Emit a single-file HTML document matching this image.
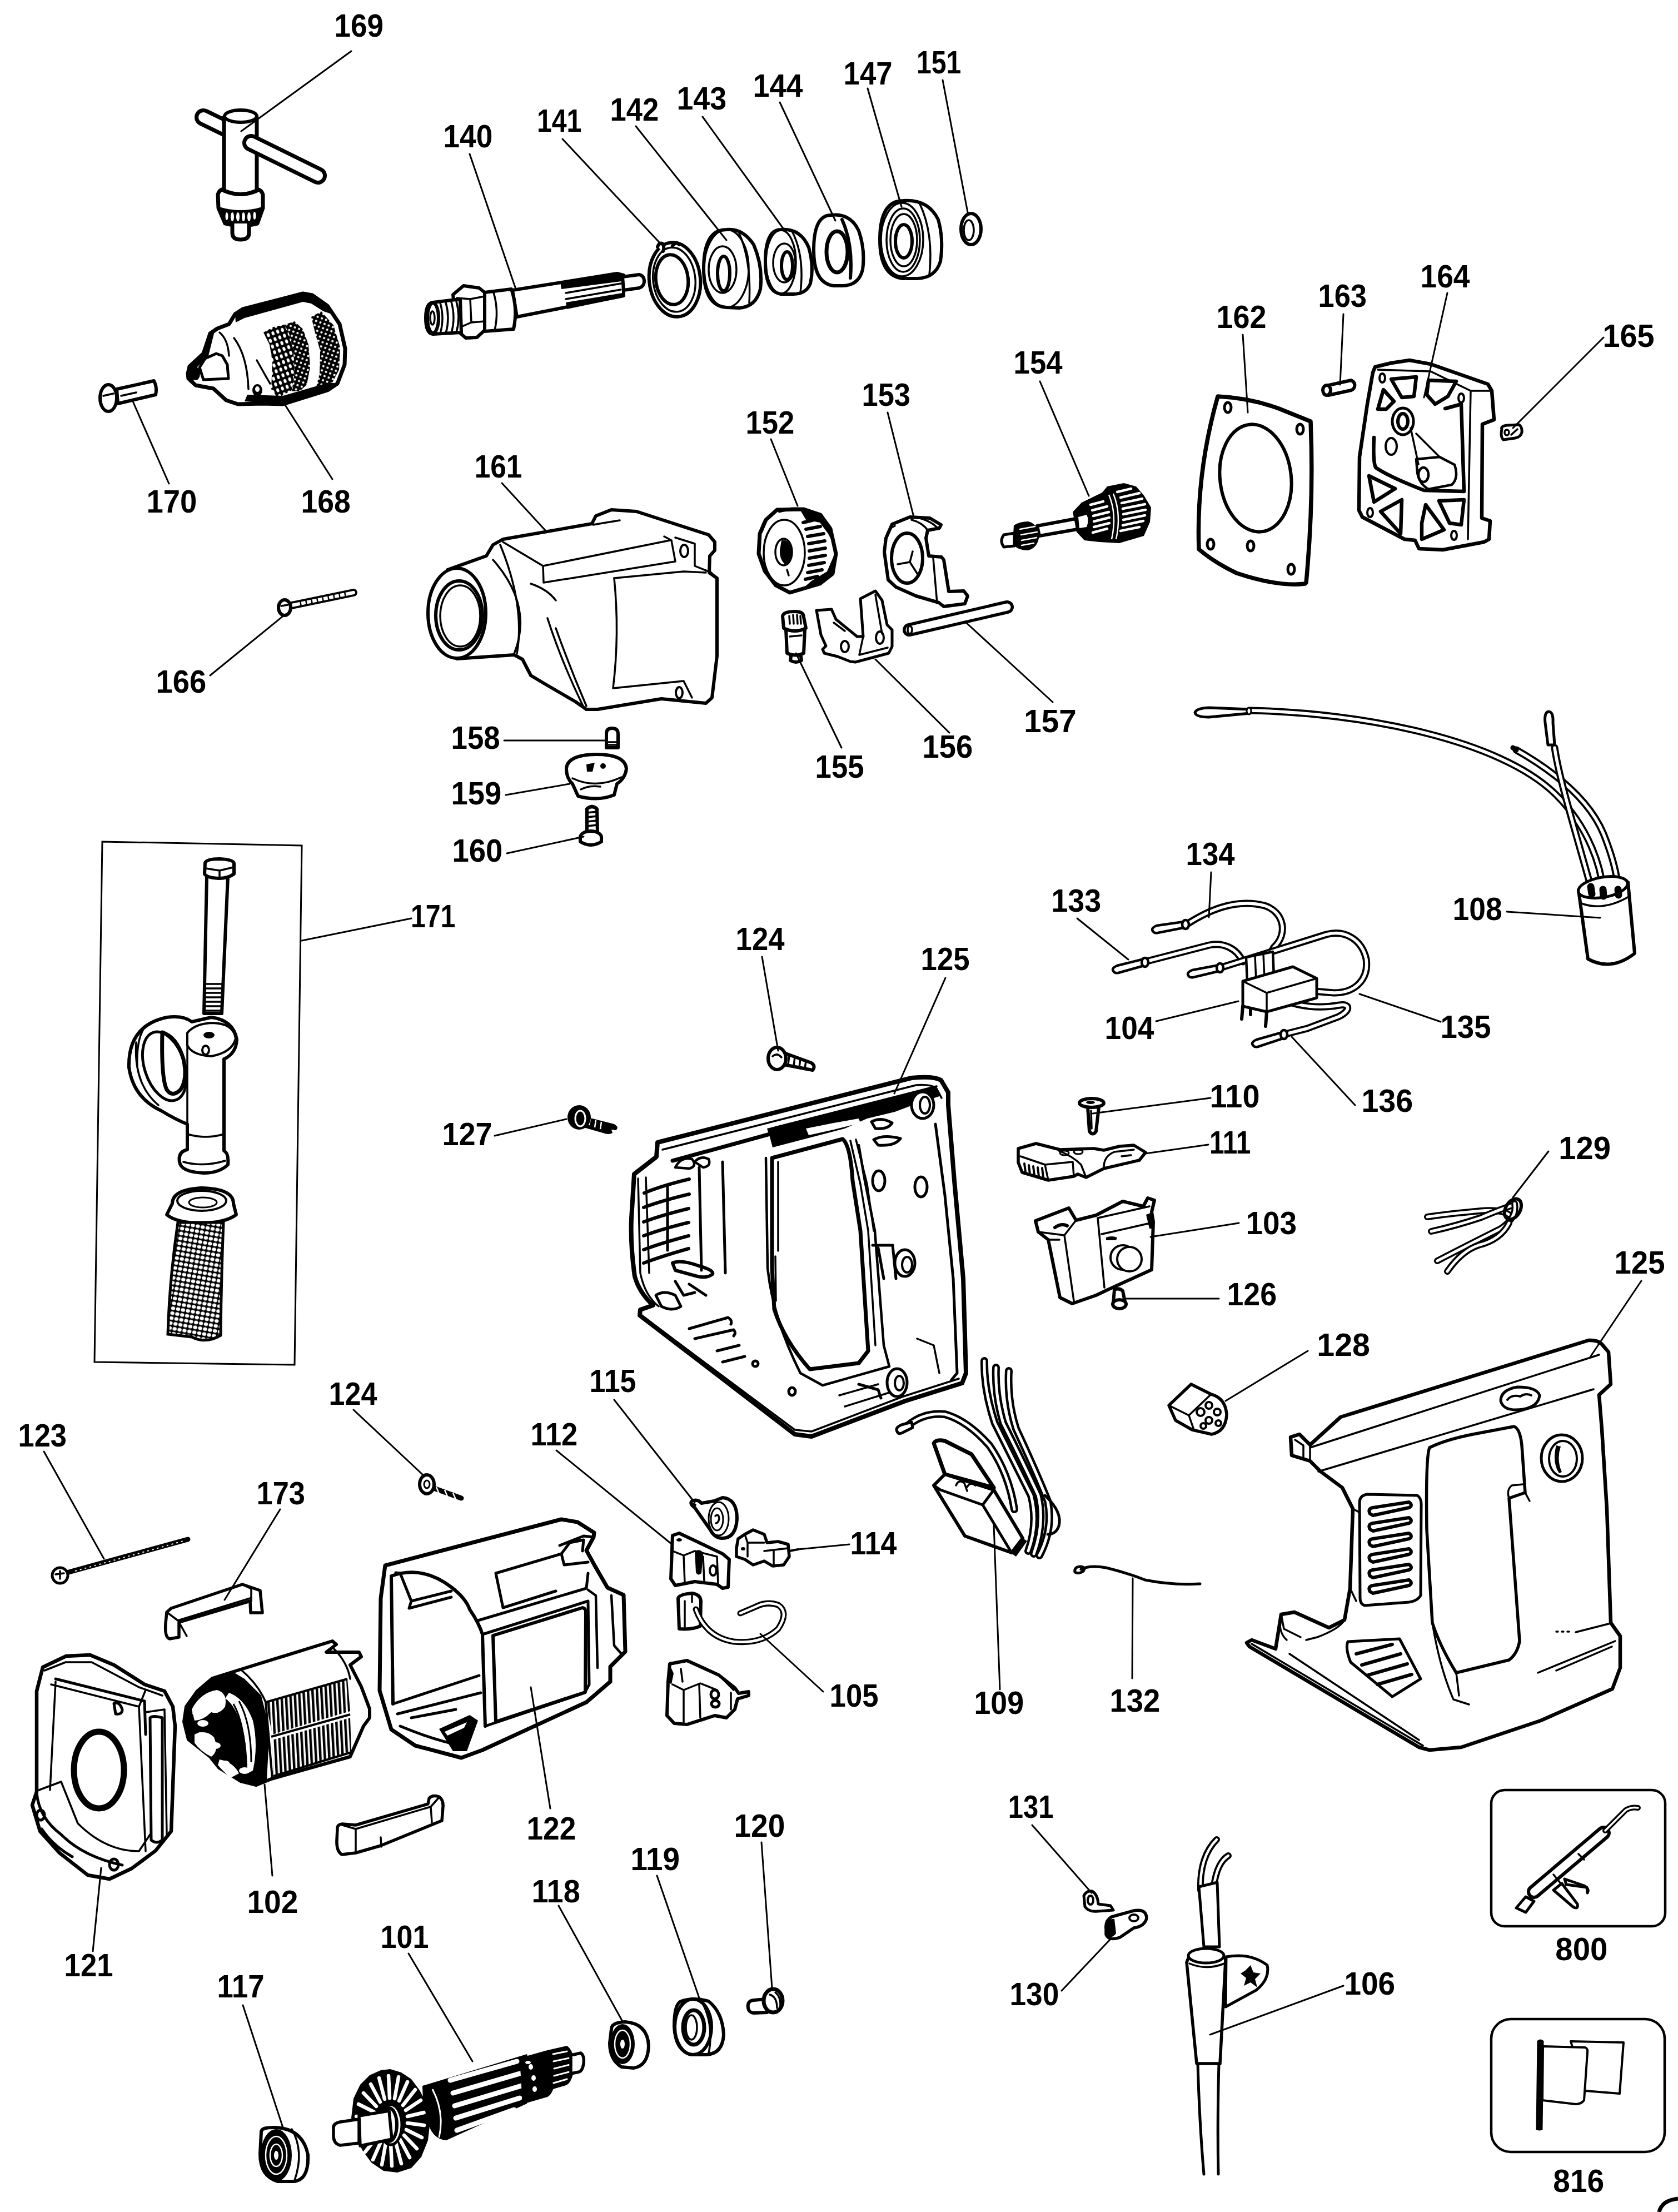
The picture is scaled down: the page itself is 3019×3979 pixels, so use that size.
<!DOCTYPE html>
<html><head><meta charset="utf-8"><style>
html,body{margin:0;padding:0;background:#fff;}
svg{display:block;}
text{font-family:"Liberation Sans",sans-serif;font-weight:bold;font-size:57px;fill:#000;}
.o{fill:#fff;stroke:#000;stroke-width:6;stroke-linejoin:round;stroke-linecap:round;}
.n{fill:none;stroke:#000;stroke-width:6;stroke-linejoin:round;stroke-linecap:round;}
.t{fill:none;stroke:#000;stroke-width:3.5;stroke-linejoin:round;stroke-linecap:round;}
.k{fill:#000;stroke:none;}
.L{fill:none;stroke:#000;stroke-width:3;stroke-linecap:round;}
</style></head><body>
<svg width="3019" height="3979" viewBox="0 0 3019 3979">
<rect width="3019" height="3979" fill="#fff"/>
<!-- a01_key.svg -->
<g>
<line x1="366" y1="211" x2="405" y2="230" stroke="#000" stroke-width="32" stroke-linecap="round"/>
<line x1="366" y1="211" x2="405" y2="230" stroke="#fff" stroke-width="18" stroke-linecap="round"/>
<path class="o" style="stroke-width:7" d="M403,211 L403,343 Q433,356 462,343 L462,211 Z"/>
<ellipse class="o" style="stroke-width:6" cx="433" cy="209" rx="29" ry="11"/>
<path class="o" style="stroke-width:7" d="M392,350 Q394,341 403,340 L403,343 Q433,356 462,343 L462,340 Q471,342 473,350 L473,374 L463,402 Q433,410 405,402 L393,374 Z"/>
<path class="k" d="M394,372 Q433,384 472,372 L462,402 Q433,410 405,402 Z"/>
<g fill="#fff"><ellipse cx="408" cy="389" rx="2.5" ry="7"/><ellipse cx="418" cy="390" rx="3" ry="8"/><ellipse cx="428" cy="390" rx="3" ry="8"/><ellipse cx="438" cy="390" rx="3" ry="8"/><ellipse cx="448" cy="390" rx="3" ry="8"/><ellipse cx="458" cy="388" rx="2.5" ry="7"/></g>
<path class="o" style="stroke-width:7" d="M418,402 L418,419 Q418,431 433,431 Q448,431 448,419 L448,402"/>
<line x1="452" y1="257" x2="572" y2="316" stroke="#000" stroke-width="32" stroke-linecap="round"/>
<line x1="452" y1="257" x2="572" y2="316" stroke="#fff" stroke-width="18" stroke-linecap="round"/>
</g>

<!-- a02_chuck.svg -->
<defs>
<pattern id="dots" width="8" height="8" patternUnits="userSpaceOnUse" patternTransform="rotate(20)">
<rect width="8" height="8" fill="#000"/><circle cx="4" cy="4" r="2.1" fill="#fff"/></pattern>
<pattern id="dots2" width="9" height="11" patternUnits="userSpaceOnUse" patternTransform="rotate(-20)">
<rect width="9" height="11" fill="#000"/><ellipse cx="4.5" cy="5.5" rx="2.6" ry="3.8" fill="#fff"/></pattern>
</defs>
<g>
<path fill="#fff" stroke="#000" stroke-width="7" stroke-linejoin="round" d="M338,672 L341,659 L366,636 L378,600 L391,591 L412,583 L423,565 L437,556 L545,528 L562,531 L589,550 L611,583 L621,627 L620,656 L607,690 L589,702 L509,727 L473,726 L428,727 L407,720 L384,699 L352,693 L339,681 Z"/>
<path class="k" d="M423,565 L437,556 L545,528 L562,531 L589,550 L600,566 L582,560 L560,546 L545,543 L440,572 L424,580 Z"/>
<path fill="url(#dots)" d="M560,570 L578,560 L600,585 L612,625 L610,665 L598,688 L568,700 L575,672 L576,631 L566,595 Z"/>
<path fill="url(#dots2)" d="M474,598 L492,588 L512,584 L520,600 L528,630 L530,670 L525,702 L500,716 L488,700 L490,650 L485,620 Z"/>
<path fill="url(#dots)" d="M512,584 L530,578 L545,592 L555,620 L558,660 L552,692 L540,703 L525,704 L530,670 L528,630 L520,600 Z"/>
<path class="k" d="M440,722 L509,727 L589,702 L607,690 L592,688 L509,712 L445,710 Z"/>
<path class="k" d="M338,672 L341,659 L366,636 L378,600 L386,596 L375,640 L350,665 L348,690 L339,681 Z"/>
<path fill="#fff" stroke="#000" stroke-width="5" stroke-linejoin="round" d="M359,661 L369,645 L389,636 L400,640 L409,656 L411,681 L366,683 Z"/>
<ellipse cx="352" cy="672" rx="8" ry="12" fill="#000"/>
<path class="t" d="M421,608 Q445,640 447,700"/>
<path class="t" d="M462,648 Q480,680 486,690"/>
<path class="t" d="M395,598 Q410,610 412,640"/>
<ellipse cx="463" cy="702" rx="9" ry="11" fill="#000"/>
<ellipse cx="463" cy="700" rx="4" ry="5" fill="#fff"/>
</g>

<!-- a03_screw170.svg -->
<g>
<path class="o" d="M210,700 L277,685 Q283,697 280,710 L212,726 Z"/>
<ellipse class="o" cx="195" cy="716" rx="15" ry="24"/>
<path class="t" d="M186,712 L204,708"/>
<path class="t" d="M218,712 L245,706"/>
</g>

<!-- a04_spindle.svg -->
<g>
<path class="o" d="M922,522 L1110,492 L1122,495 L1122,532 L930,570 Z"/>
<path class="o" d="M1120,498 L1150,494 Q1159,496 1159,506 Q1159,515 1150,518 L1122,522 Z"/>
<path class="k" d="M1008,506 L1110,491 L1118,496 L1118,506 L1010,520 Z"/>
<path class="k" d="M1018,544 L1120,527 L1120,535 L1020,556 Z"/>
<path class="t" d="M1018,527 L1117,510 M1018,538 L1117,521"/>
<path class="o" d="M872,526 L920,520 Q932,555 924,592 L872,596 Z"/>
<path class="t" d="M888,526 Q898,560 890,594"/>
<path class="o" style="stroke-width:6" d="M815,530 L834,514 L862,518 L872,526 L872,594 L858,607 L838,608 L822,594 Z"/>
<path class="t" d="M822,536 L846,538 L872,533 M846,538 L848,580 L872,578 M848,580 L825,590"/>
<path class="o" style="stroke-width:6" d="M779,544 L828,538 L830,598 L779,601 Q766,600 766,572 Q766,545 779,544 Z"/>
<ellipse class="n" cx="779" cy="572" rx="10" ry="27"/>
<ellipse class="t" cx="778" cy="572" rx="4" ry="12"/>
<path class="t" d="M792,545 Q800,572 792,600 M802,544 Q810,572 802,600 M812,543 Q820,572 812,599 M821,542 Q829,570 821,598"/>
</g>

<!-- a05_rings.svg -->
<g>
<ellipse class="n" cx="1214" cy="503" rx="46" ry="67" transform="rotate(-6 1214 503)"/>
<ellipse class="t" cx="1213" cy="503" rx="38" ry="58" transform="rotate(-6 1213 503)"/>
<ellipse class="n" cx="1209" cy="503" rx="29" ry="45" transform="rotate(-6 1209 503)"/>
<path class="o" d="M1183,444 Q1186,436 1192,438 Q1196,444 1193,452 M1210,442 Q1216,434 1222,440"/>
</g>
<g>
<path class="o" d="M1307,413 Q1336,410 1356,440 Q1373,480 1368,520 Q1360,552 1330,554 L1307,553 Q1266,550 1266,483 Q1266,413 1307,413 Z"/>
<ellipse class="t" cx="1307" cy="483" rx="40" ry="70"/>
<ellipse class="t" cx="1300" cy="485" rx="25" ry="42"/>
<ellipse class="n" cx="1302" cy="492" rx="11" ry="31" style="stroke-width:6"/>
<path class="t" d="M1330,420 Q1352,470 1348,545"/>
</g>
<g>
<path class="o" d="M1405,413 Q1440,410 1455,445 Q1465,480 1458,510 Q1450,530 1425,529 L1405,529 Q1377,525 1377,471 Q1377,413 1405,413 Z"/>
<ellipse class="t" cx="1405" cy="471" rx="27" ry="57"/>
<ellipse class="t" cx="1411" cy="473" rx="20" ry="35"/>
<ellipse class="n" cx="1416" cy="478" rx="10" ry="25" style="stroke-width:6"/>
<path class="t" d="M1425,416 Q1448,460 1440,527"/>
</g>
<g>
<path class="o" style="stroke-width:6" d="M1495,387 Q1530,383 1545,415 Q1557,450 1552,485 Q1545,514 1515,514 L1500,514 Q1464,510 1464,450 Q1464,387 1495,387 Z"/>
<ellipse class="n" cx="1506" cy="453" rx="19" ry="37" style="stroke-width:7"/>
<path class="n" d="M1515,395 Q1535,440 1530,500"/>
</g>
<g>
<path class="o" style="stroke-width:6" d="M1625,361 Q1670,358 1688,395 Q1698,430 1692,470 Q1683,500 1650,501 L1625,501 Q1583,497 1583,431 Q1583,361 1625,361 Z"/>
<ellipse class="t" cx="1623" cy="431" rx="38" ry="66"/>
<ellipse class="t" cx="1625" cy="432" rx="30" ry="57"/>
<ellipse class="t" cx="1626" cy="432" rx="24" ry="47"/>
<ellipse class="n" cx="1626" cy="434" rx="15" ry="30"/>
<path class="t" d="M1655,367 Q1680,420 1672,495"/>
</g>
<g>
<ellipse class="n" cx="1747" cy="412" rx="18" ry="28" style="stroke-width:6"/>
<ellipse class="t" cx="1743" cy="414" rx="9" ry="18"/>
</g>

<!-- a06_gasket162.svg -->
<g>
<path class="n" style="stroke-width:7.5" d="M2191,713 Q2250,716 2301,735 L2358,758 Q2364,900 2350,1048 L2348,1050 Q2300,1056 2225,1031 Q2185,1012 2157,988 Q2152,850 2191,713 Z"/>
<ellipse class="n" cx="2259" cy="860" rx="64" ry="97" transform="rotate(-6.7 2259 860)" style="stroke-width:6"/>
<g class="n" style="stroke-width:5">
<ellipse cx="2209" cy="733" rx="6" ry="9"/>
<ellipse cx="2339" cy="772" rx="6" ry="9"/>
<ellipse cx="2178" cy="979" rx="6" ry="9"/>
<ellipse cx="2250" cy="982" rx="6" ry="9"/>
<ellipse cx="2323" cy="1024" rx="6" ry="9"/>
</g>
</g>

<!-- a07_plate164.svg -->
<g>
<path class="o" style="stroke-width:6.5" d="M2474,660 L2503,653 L2536,648 L2574,655 L2677,691 L2684,703 L2688,755 L2667,763 L2666,932 L2681,937 L2679,970 L2670,975 L2596,989 L2553,987 L2546,972 L2527,970 L2451,930 L2445,918 L2446,822 L2460,727 L2470,670 Z"/>
<path class="t" d="M2479,665 L2574,668 L2646,703 L2641,970 M2646,703 L2684,703"/>
<g class="n" style="stroke-width:4">
<ellipse cx="2487" cy="680" rx="5" ry="8"/>
<ellipse cx="2629" cy="716" rx="5" ry="8"/>
<ellipse cx="2465" cy="922" rx="5" ry="8"/>
<ellipse cx="2616" cy="963" rx="5" ry="8"/>
</g>
<g class="n" style="stroke-width:6.5">
<path d="M2503,682 L2548,678 L2544,713 L2522,715 Z"/>
<path d="M2570,684 L2620,686 L2605,713 L2582,727 L2567,710 Z"/>
<path d="M2489,701 L2508,722 L2494,736 L2479,736 Z"/>
<path d="M2463,856 L2510,879 L2472,903 Z"/>
<path d="M2484,920 L2522,899 L2520,960 Z"/>
<path d="M2565,908 L2598,953 L2558,970 L2558,941 Z"/>
<path d="M2589,901 L2634,899 L2629,944 L2608,941 Z"/>
<path d="M2472,787 Q2470,830 2475,841 Q2500,858 2562,882 L2634,884 L2629,727 L2600,735"/>
</g>
<ellipse class="o" cx="2524" cy="758" rx="19" ry="24" style="stroke-width:5"/>
<ellipse class="n" cx="2524" cy="758" rx="9" ry="14" style="stroke-width:6"/>
<ellipse class="n" cx="2503" cy="803" rx="10" ry="15" style="stroke-width:4"/>
<path class="o" style="stroke-width:4.5" d="M2548,826 L2590,822 L2617,836 Q2625,860 2612,872 L2570,880 Q2553,870 2550,850 Z"/>
<ellipse class="o" cx="2561" cy="854" rx="9" ry="13" style="stroke-width:4.5"/>
<path class="t" d="M2538,770 L2552,835 M2548,780 L2590,822"/>
</g>
<g>
<path class="o" d="M2386,694 L2431,684 Q2439,688 2437,696 Q2435,701 2431,702 L2390,711 Z"/>
<ellipse class="o" cx="2387" cy="702" rx="7" ry="9"/>
</g>
<g>
<path class="o" style="stroke-width:5" d="M2702,772 Q2700,766 2712,765 L2733,764 Q2739,768 2738,778 Q2736,786 2726,788 L2705,791 Q2699,786 2702,772 Z"/>
<ellipse class="t" cx="2711" cy="778" rx="4" ry="5"/>
<path class="t" d="M2719,782 L2730,772"/>
</g>

<!-- b01_housing161.svg -->
<g>
<path class="o" style="stroke-width:6" d="M805,1025 L875,1000 L887,980 L905,970 L1065,942 L1072,928 L1100,917 L1145,920 L1275,962 L1286,975 L1286,990 L1277,1000 L1276,1030 L1290,1040 L1290,1180 L1281,1255 L1270,1265 L1190,1257 L1075,1276 L1055,1276 L1035,1262 L980,1230 L955,1215 L940,1186 L925,1178 L822,1185 Z"/>
<ellipse class="o" style="stroke-width:6" cx="822" cy="1103" rx="52" ry="81"/>
<ellipse class="n" cx="826" cy="1107" rx="42" ry="62"/>
<ellipse class="t" cx="828" cy="1108" rx="36" ry="55"/>
<path class="t" d="M887,1007 Q960,1090 925,1176"/>
<path class="t" d="M900,980 Q945,1090 930,1176"/>
<path class="t" d="M905,975 L977,1018 L1205,972 M977,1018 L978,1048 L1215,1010 L1208,972 M1195,965 L1208,972"/>
<path class="t" d="M1067,944 Q1090,940 1115,936"/>
<ellipse class="n" cx="1231" cy="991" rx="7" ry="11" style="stroke-width:4"/>
<path class="t" d="M1215,967 L1250,978 L1250,1018 L1280,1030"/>
<path class="t" d="M1105,1040 Q1115,1140 1103,1238 L1230,1225 L1245,1255"/>
<path class="t" d="M1105,1040 L1230,1028 L1270,1030"/>
<ellipse class="n" cx="1222" cy="1246" rx="6" ry="10" style="stroke-width:4"/>
<path class="t" d="M985,1112 Q1010,1190 1050,1272"/>
<path class="t" d="M1000,1130 Q1025,1200 1055,1270"/>
<path class="t" d="M955,1050 Q985,1060 1000,1080"/>
</g>

<!-- b02_gear152.svg -->
<g>
<path fill="#fff" stroke="#000" stroke-width="7" stroke-linejoin="round" d="M1365,996 L1367,960 L1378,935 L1398,917 L1446,916 L1476,926 L1494,951 L1504,996 L1498,1032 L1475,1050 L1421,1066 L1396,1053 L1376,1027 Z"/>
<path fill="#000" d="M1440,918 L1476,926 L1494,951 L1500,980 L1490,960 L1475,940 L1450,935 Z"/>
<path fill="#000" d="M1500,1000 L1498,1032 L1475,1050 L1445,1058 L1460,1045 L1488,1028 Z"/>
<g stroke="#000" stroke-width="6" stroke-linecap="round">
<path d="M1445,940 L1465,935 M1450,952 L1476,947 M1453,965 L1482,960 M1455,978 L1484,973 M1456,991 L1485,986 M1456,1004 L1485,999 M1455,1017 L1483,1012 M1453,1030 L1479,1025 M1449,1042 L1471,1037"/>
</g>
<ellipse fill="#fff" stroke="#000" stroke-width="3.5" cx="1411" cy="994" rx="37" ry="59"/>
<ellipse fill="#fff" stroke="#000" stroke-width="3.5" cx="1410" cy="993" rx="15" ry="24"/>
<path fill="#000" d="M1406,972 Q1420,968 1424,990 Q1425,1012 1412,1015 Q1402,1005 1403,990 Z"/>
<path class="t" d="M1416,1025 L1419,1035"/>
<path fill="none" stroke="#000" stroke-width="6" d="M1400,920 Q1420,914 1440,916 M1370,955 L1375,940"/>
</g>

<!-- b03_small158.svg -->
<g>
<path class="o" d="M1091,1345 L1091,1320 Q1091,1310 1101,1310 Q1112,1310 1112,1320 L1112,1345 Z"/>
<path class="t" d="M1091,1335 L1112,1335 M1091,1340 L1112,1340"/>
<path class="o" style="stroke-width:6" d="M1019,1383 Q1020,1358 1072,1357 Q1125,1357 1127,1383 Q1125,1400 1110,1410 L1105,1430 Q1075,1442 1040,1432 L1030,1410 Q1019,1400 1019,1383 Z"/>
<path class="t" d="M1030,1400 Q1072,1420 1118,1398 M1045,1420 Q1060,1412 1080,1415"/>
<path class="k" d="M1055,1375 L1070,1372 L1066,1388 L1056,1388 Z M1080,1378 a5,5 0 1,0 10,0 a5,5 0 1,0 -10,0"/>
<path class="o" d="M1056,1455 Q1065,1447 1074,1455 L1075,1500 L1056,1500 Z"/>
<path class="t" d="M1056,1462 L1075,1460 M1056,1470 L1075,1468 M1056,1478 L1075,1476 M1056,1486 L1075,1484"/>
<ellipse class="o" cx="1063" cy="1506" rx="19" ry="11"/>
<path class="o" d="M1044,1506 L1044,1514 Q1063,1526 1082,1514 L1082,1506"/>
</g>

<!-- b04_small155.svg -->
<g>
<path class="o" d="M1424,1174 L1422,1188 Q1432,1194 1442,1188 L1440,1174 Z"/>
<path class="o" d="M1414,1132 L1416,1175 Q1432,1182 1446,1175 L1448,1132 Z"/>
<path class="o" d="M1408,1108 Q1410,1100 1430,1100 Q1446,1100 1446,1110 L1450,1130 Q1430,1140 1410,1130 Z"/>
<path class="t" d="M1420,1108 L1421,1122 M1427,1106 L1428,1122 M1434,1106 L1435,1122 M1440,1108 L1441,1122"/>
<path class="t" d="M1421,1145 L1442,1143"/>
</g>

<!-- b05_screw124a.svg -->
<g>
<path class="o" d="M1408,1893 L1460,1912 Q1468,1918 1462,1925 L1410,1915 Z"/>
<path class="t" d="M1420,1898 L1418,1915 M1430,1901 L1428,1918 M1440,1905 L1438,1920 M1450,1909 L1448,1922"/>
<ellipse class="o" style="stroke-width:6" cx="1398" cy="1904" rx="16" ry="20"/>
<path class="t" d="M1390,1900 Q1398,1893 1406,1902"/>
</g>

<!-- b06_153.svg -->
<g>
<path class="o" style="stroke-width:6" d="M1605,943 L1637,930 L1673,932 L1693,944 L1690,950 L1669,954 L1666,968 L1671,1000 L1694,1002 L1698,1007 L1707,1064 L1734,1063 L1741,1072 L1736,1086 L1698,1091 L1689,1084 L1648,1072 L1612,1056 L1598,1043 L1591,993 L1594,968 Z"/>
<ellipse class="n" cx="1632" cy="1004" rx="28" ry="45" style="stroke-width:6"/>
<path class="t" d="M1615,1015 L1637,1011 L1651,1033 M1637,1011 L1642,992"/>
<path class="t" d="M1679,1004 L1686,1085 M1698,1007 L1707,1064"/>
<path class="t" d="M1640,935 Q1660,940 1670,955 M1655,932 Q1675,938 1685,948"/>
<path class="t" d="M1596,960 Q1600,950 1610,946"/>
</g>

<!-- b07_154.svg -->
<g>
<path class="o" d="M1866,946 L1952,930 L1950,950 L1870,964 Z"/>
<path fill="#000" d="M1824,945 Q1835,938 1850,938 Q1866,942 1870,962 Q1868,985 1850,990 Q1830,990 1822,978 Z"/>
<g stroke="#fff" stroke-width="2.5" stroke-linecap="round"><path d="M1835,952 L1862,947 M1837,962 L1866,957 M1838,972 L1865,967 M1838,981 L1860,977"/></g>
<path class="o" style="stroke-width:5" d="M1806,962 L1825,959 L1825,982 L1806,984 Q1798,973 1806,962 Z"/>
<path fill="#000" d="M1930,921 L1946,904 L1983,886 L1992,875 L2022,869 L2044,875 L2058,891 L2071,913 L2069,939 L2058,964 L2014,977 L1978,975 L1951,972 L1937,957 Z"/>
<g stroke="#fff" stroke-width="4.5" stroke-linecap="round">
<path d="M1962,908 L1985,902 M1965,918 L1992,911 M1967,928 L1995,921 M1968,938 L1996,931 M1968,948 L1996,941 M1966,958 L1992,951"/>
<path d="M2010,885 L2035,879 M2016,895 L2050,887 M2018,905 L2055,897 M2020,915 L2060,907 M2021,925 L2061,917 M2021,935 L2060,927 M2020,945 L2057,937 M2016,955 L2050,948"/>
</g>
<path fill="none" stroke="#fff" stroke-width="2.5" d="M1995,890 Q2010,925 2000,970 M2003,888 Q2018,925 2008,970"/>
<path fill="#fff" d="M1940,930 L1955,926 Q1960,935 1955,948 L1942,950 Z"/>
</g>

<!-- b08_156_157.svg -->
<g>
<line x1="1636" y1="1133" x2="1812" y2="1092" stroke="#000" stroke-width="24" stroke-linecap="round"/>
<line x1="1636" y1="1133" x2="1812" y2="1092" stroke="#fff" stroke-width="13" stroke-linecap="round"/>
<ellipse class="t" cx="1637" cy="1133" rx="4" ry="7"/>
</g>
<g>
<path class="o" style="stroke-width:5" d="M1469,1098 L1496,1096 L1504,1114 L1542,1145 L1553,1145 L1548,1077 L1575,1063 L1587,1080 L1596,1124 L1605,1133 L1605,1163 L1599,1175 L1539,1191 L1530,1190 L1507,1181 L1483,1175 L1480,1168 L1486,1162 L1477,1142 Z"/>
<ellipse class="n" cx="1520" cy="1163" rx="7" ry="10" style="stroke-width:4"/>
<ellipse class="n" cx="1583" cy="1147" rx="7" ry="11" style="stroke-width:4"/>
<path class="t" d="M1553,1145 L1546,1178 L1597,1165 M1575,1070 L1587,1140 M1500,1120 L1520,1135"/>
</g>

<!-- b09_166.svg -->
<g>
<path fill="none" stroke="#000" stroke-width="14" stroke-linecap="round" d="M520,1090 L636,1066"/>
<path fill="none" stroke="#fff" stroke-width="6" stroke-linecap="round" d="M520,1090 L636,1066"/>
<path fill="none" stroke="#000" stroke-width="2.5" d="M540,1080 L542,1092 M550,1078 L552,1090 M560,1076 L562,1088 M570,1074 L572,1086 M580,1072 L582,1084 M590,1070 L592,1082 M600,1068 L602,1080 M610,1066 L612,1078 M620,1064 L622,1076"/>
<ellipse class="o" cx="512" cy="1093" rx="11" ry="14" style="stroke-width:6"/>
<path class="t" d="M506,1090 L518,1088"/>
</g>

<!-- c01_wires108.svg -->
<g fill="none" stroke-linecap="round" stroke-linejoin="round">
<path d="M2249,1278 C2450,1282 2700,1330 2800,1430 C2860,1490 2880,1560 2884,1600" stroke="#000" stroke-width="13"/>
<path d="M2249,1278 C2450,1282 2700,1330 2800,1430 C2860,1490 2880,1560 2884,1600" stroke="#fff" stroke-width="5.5"/>
<path d="M2728,1349 C2800,1390 2860,1440 2885,1500 C2905,1550 2910,1580 2911,1600" stroke="#000" stroke-width="13"/>
<path d="M2728,1349 C2800,1390 2860,1440 2885,1500 C2905,1550 2910,1580 2911,1600" stroke="#fff" stroke-width="5.5"/>
<path d="M2797,1345 C2805,1400 2830,1480 2862,1595" stroke="#000" stroke-width="13"/>
<path d="M2797,1345 C2805,1400 2830,1480 2862,1595" stroke="#fff" stroke-width="5.5"/>
<path d="M2150,1282 Q2152,1274 2175,1273 L2249,1276 L2249,1283 L2175,1290 Q2152,1290 2150,1282 Z" stroke="#000" stroke-width="5" fill="#fff"/>
<ellipse cx="2247" cy="1279" rx="4" ry="6" stroke="#000" stroke-width="3" fill="#fff"/>
<path d="M2785,1340 L2780,1300 Q2778,1282 2786,1280 Q2795,1280 2794,1300 L2797,1340 Z" stroke="#000" stroke-width="5" fill="#fff"/>
<path d="M2728,1349 L2722,1345" stroke="#000" stroke-width="9"/>
</g>
<g>
<path class="o" style="stroke-width:6" d="M2840,1601 L2857,1725 Q2899,1748 2941,1715 L2929,1587 Z"/>
<ellipse class="o" cx="2884" cy="1596" rx="45" ry="18" transform="rotate(-10 2884 1596)" style="stroke-width:5"/>
<path class="t" d="M2845,1625 Q2885,1640 2932,1612"/>
<path fill="none" stroke="#000" stroke-width="13" stroke-linecap="round" d="M2862,1595 L2864,1608 M2884,1600 L2885,1612 M2911,1600 L2912,1610"/>
</g>

<!-- c02_switch104.svg -->
<g fill="none" stroke-linecap="round" stroke-linejoin="round">
<g id="w134">
<path d="M2133,1664 C2170,1640 2220,1615 2275,1629 C2310,1640 2318,1680 2292,1704 L2279,1726" stroke="#000" stroke-width="13"/>
<path d="M2133,1664 C2170,1640 2220,1615 2275,1629 C2310,1640 2318,1680 2292,1704 L2279,1726" stroke="#fff" stroke-width="5.5"/>
</g>
<path d="M2060,1730 L2176,1700 C2200,1695 2225,1705 2236,1730" stroke="#000" stroke-width="13"/>
<path d="M2060,1730 L2176,1700 C2200,1695 2225,1705 2236,1730" stroke="#fff" stroke-width="5.5"/>
<path d="M2195,1741 L2386,1681 C2420,1672 2450,1690 2458,1725 C2463,1760 2440,1786 2400,1786 L2352,1782" stroke="#000" stroke-width="13"/>
<path d="M2195,1741 L2386,1681 C2420,1672 2450,1690 2458,1725 C2463,1760 2440,1786 2400,1786 L2352,1782" stroke="#fff" stroke-width="5.5"/>
<path d="M2309,1861 L2352,1850 L2408,1829 C2430,1818 2430,1805 2410,1808 C2370,1815 2340,1810 2309,1799" stroke="#000" stroke-width="13"/>
<path d="M2309,1861 L2352,1850 L2408,1829 C2430,1818 2430,1805 2410,1808 C2370,1815 2340,1810 2309,1799" stroke="#fff" stroke-width="5.5"/>
<g stroke="#000" stroke-width="4.5" fill="#fff">
<path d="M2004,1748 Q1998,1742 2010,1737 L2058,1725 L2062,1736 L2012,1750 Q2006,1751 2004,1748 Z"/>
<path d="M2075,1676 Q2069,1670 2081,1665 L2130,1658 L2134,1668 L2083,1678 Q2077,1679 2075,1676 Z"/>
<path d="M2139,1756 Q2133,1750 2145,1745 L2193,1736 L2197,1746 L2147,1758 Q2141,1759 2139,1756 Z"/>
<path d="M2255,1881 Q2249,1875 2261,1870 L2307,1857 L2311,1867 L2263,1883 Q2257,1884 2255,1881 Z"/>
<ellipse cx="2060" cy="1731" rx="6" ry="8"/>
<ellipse cx="2133" cy="1663" rx="6" ry="8"/>
<ellipse cx="2195" cy="1741" rx="6" ry="8"/>
<ellipse cx="2310" cy="1861" rx="6" ry="8"/>
</g>
</g>
<g>
<path class="o" style="stroke-width:4.5" d="M2242,1722 L2290,1712 L2292,1758 L2244,1768 Z"/>
<path class="t" d="M2258,1720 L2260,1765 M2273,1716 L2275,1762"/>
<path class="o" style="stroke-width:5" d="M2236,1765 L2326,1739 L2369,1760 L2369,1795 L2279,1820 L2236,1810 Z"/>
<path class="t" d="M2236,1765 L2279,1786 L2369,1760 M2279,1786 L2279,1820"/>
<path class="n" d="M2236,1810 L2234,1833 M2279,1820 L2277,1846 M2250,1815 L2250,1825" style="stroke-width:6"/>
</g>

<!-- d01_box171.svg -->
<defs>
<pattern id="mesh" width="9" height="9" patternUnits="userSpaceOnUse" patternTransform="rotate(10)">
<rect width="9" height="9" fill="#000"/><ellipse cx="4.5" cy="4.5" rx="3.7" ry="3.3" fill="#fff"/></pattern>
</defs>
<g>
<path fill="none" stroke="#000" stroke-width="3" d="M184,1514 L543,1521 L530,2455 L170,2450 Z"/>
<path class="o" d="M372,1577 L367,1823 L399,1823 L410,1577 Z"/>
<path class="t" d="M370,1770 L400,1770 M369,1778 L400,1778 M369,1786 L400,1786 M369,1794 L400,1794 M368,1802 L399,1802 M368,1810 L399,1810 M368,1818 L399,1818"/>
<path class="o" d="M369,1552 Q372,1545 395,1545 Q420,1546 421,1553 L421,1572 Q410,1580 394,1580 Q372,1579 368,1572 Z"/>
<path class="t" d="M370,1562 L395,1566 L420,1560 M395,1566 L395,1579"/>
<path class="o" style="stroke-width:6" d="M300,1830 Q330,1826 345,1838 L380,1830 Q420,1835 426,1870 Q425,1895 403,1905 L403,2070 Q412,2075 410,2095 Q395,2110 366,2110 Q325,2108 323,2090 Q320,2072 337,2068 L337,2022 Q318,2015 290,1998 Q240,1975 232,1920 Q230,1845 300,1830 Z"/>
<ellipse class="n" cx="296" cy="1918" rx="36" ry="64" transform="rotate(-18 296 1918)" style="stroke-width:5"/>
<path class="n" style="stroke-width:7" d="M292,1857 Q318,1865 330,1905 Q338,1940 325,1960 Q310,1975 300,1960 Q290,1940 292,1857"/>
<path class="t" d="M245,1875 Q240,1950 285,1988 M260,1848 Q245,1870 247,1920"/>
<path class="n" d="M337,1858 Q350,1842 380,1840 Q420,1840 424,1868 Q418,1893 380,1900 Q345,1898 337,1880 Z" style="stroke-width:4"/>
<ellipse class="k" cx="376" cy="1862" rx="10" ry="6"/>
<ellipse class="n" cx="370" cy="1889" rx="6" ry="8" style="stroke-width:4"/>
<path class="t" d="M337,1880 L337,2068 M337,2040 Q370,2050 403,2040 M330,2090 Q365,2100 405,2088"/>
<path class="o" style="stroke-width:6" d="M310,2165 Q310,2140 362,2137 Q420,2138 420,2165 L425,2185 Q405,2200 362,2200 Q318,2200 300,2185 Z"/>
<ellipse class="n" cx="363" cy="2160" rx="44" ry="18" style="stroke-width:4"/>
<ellipse class="n" cx="365" cy="2163" rx="25" ry="9" style="stroke-width:3"/>
<path fill="url(#mesh)" stroke="#000" stroke-width="5" d="M320,2199 L402,2199 Q398,2300 397,2402 Q370,2418 345,2405 L302,2400 Q305,2300 320,2199 Z"/>
</g>

<!-- e01_housing125a.svg -->
<g>
<path class="o" style="stroke-width:8" d="M1183,2055 L1640,1939 Q1680,1935 1693,1943 L1706,1965 L1706,1988 L1717,2124 L1733,2300 L1738,2470 L1731,2488 L1629,2520 L1460,2584 L1430,2580 L1151,2366 L1152,2356 L1175,2348 Q1150,2325 1142,2296 Q1134,2240 1136,2192 L1141,2112 L1181,2081 Z"/>
<path class="k" d="M1380,2030 L1685,1954 L1690,1972 L1650,1985 L1610,2000 L1560,2012 L1520,2030 L1390,2064 L1385,2045 Z"/>
<path class="n" style="stroke-width:7" d="M1210,2088 L1385,2040"/>
<path fill="#fff" d="M1450,2030 L1500,2020 L1545,2012 L1548,2020 L1500,2032 L1455,2042 Z"/>
<path class="t" d="M1192,2068 L1648,1952 Q1676,1950 1685,1958 L1694,1975 M1395,2028 L1685,1954"/>
<path class="n" style="stroke-width:5" d="M1683,2022 L1700,2150 L1715,2300 L1722,2470 L1712,2482"/>
<path class="n" style="stroke-width:7" d="M1389,2083 L1516,2049 Q1530,2060 1534,2124 L1548,2214 L1562,2430 L1545,2452 L1457,2463 Q1410,2410 1393,2355 L1389,2280 Z"/>
<path class="n" style="stroke-width:4.5" d="M1378,2083 L1381,2280 Q1390,2370 1440,2470 L1480,2492 L1600,2458 L1590,2420 L1574,2214 L1556,2124 L1545,2060"/>
<path class="t" d="M1530,2052 L1548,2130 L1562,2214 L1575,2420 M1540,2050 L1560,2130 L1572,2214"/>
<path class="t" d="M1400,2090 L1400,2250 M1395,2260 L1396,2340"/>
<path class="n" style="stroke-width:5" d="M1300,2090 L1305,2290 M1258,2100 L1262,2285"/>
<path class="t" d="M1148,2120 L1152,2290 Q1160,2330 1185,2350 M1162,2118 L1168,2290"/>
<g fill="none" stroke="#000" stroke-width="6" stroke-linecap="round">
<path d="M1159,2146 Q1190,2133 1240,2121"/>
<path d="M1158,2172 Q1190,2160 1240,2148"/>
<path d="M1158,2198 Q1190,2186 1239,2174"/>
<path d="M1158,2223 Q1190,2211 1239,2199"/>
<path d="M1158,2248 Q1190,2236 1239,2223"/>
<path d="M1158,2272 Q1190,2260 1239,2246"/>
<path d="M1201,2134 L1201,2249" stroke-width="5"/>
</g>
<path class="n" style="stroke-width:6" d="M1210,2272 Q1225,2265 1260,2278 Q1285,2285 1282,2292 Q1272,2300 1255,2296 L1215,2285 Z"/>
<path class="n" style="stroke-width:5" d="M1215,2305 L1230,2330 L1250,2325 M1240,2310 Q1255,2320 1270,2330"/>
<path class="n" style="stroke-width:5" d="M1180,2330 Q1195,2320 1215,2330 L1225,2350 Q1210,2360 1190,2350 Z"/>
<path class="n" style="stroke-width:4.5" d="M1215,2100 Q1225,2080 1245,2085 Q1255,2098 1240,2102 Z M1250,2090 Q1260,2078 1275,2085 Q1280,2098 1265,2100 Z"/>
<path class="t" d="M1162,2372 L1430,2572 L1460,2575 L1625,2512 L1725,2480"/>
<path class="n" style="stroke-width:5" d="M1240,2390 L1310,2370 Q1318,2375 1315,2382 M1250,2408 L1320,2392 Q1325,2398 1320,2403 M1290,2430 L1330,2420 M1300,2450 L1340,2440"/>
<ellipse class="n" cx="1425" cy="2503" rx="6" ry="7" style="stroke-width:5"/>
<ellipse class="n" cx="1359" cy="2453" rx="5" ry="5" style="stroke-width:5"/>
<ellipse class="n" cx="1581" cy="2124" rx="11" ry="18" style="stroke-width:5"/>
<ellipse class="n" cx="1657" cy="2135" rx="11" ry="18" style="stroke-width:5"/>
<ellipse class="o" cx="1660" cy="1988" rx="20" ry="24" style="stroke-width:5"/>
<ellipse class="n" cx="1664" cy="1988" rx="9" ry="15" style="stroke-width:4"/>
<path class="n" style="stroke-width:5" d="M1568,2018 Q1585,2008 1605,2020 Q1598,2032 1575,2030 Z M1572,2050 Q1590,2040 1620,2048 Q1610,2062 1580,2060 Z"/>
<ellipse class="o" cx="1628" cy="2272" rx="18" ry="24" style="stroke-width:5"/>
<ellipse class="n" cx="1632" cy="2275" rx="9" ry="14" style="stroke-width:4"/>
<path class="n" style="stroke-width:5" d="M1570,2240 L1606,2240 L1612,2300 M1580,2245 L1590,2300"/>
<ellipse class="o" cx="1614" cy="2487" rx="18" ry="25" style="stroke-width:5"/>
<ellipse class="n" cx="1618" cy="2488" rx="8" ry="13" style="stroke-width:4"/>
<path class="t" d="M1510,2510 L1580,2490 M1520,2530 L1600,2505 M1650,2408 L1680,2420 L1690,2470"/>
<path class="n" style="stroke-width:5" d="M1545,2490 L1580,2500 L1585,2515"/>
</g>

<!-- e02_110_111_103.svg -->
<g>
<path class="o" d="M1957,1991 L1960,2035 Q1966,2044 1972,2035 L1977,1991 Z"/>
<path class="t" d="M1963,1998 L1964,2030"/>
<ellipse class="o" cx="1964" cy="1984" rx="22" ry="8"/>
<ellipse class="k" cx="1962" cy="1983" rx="8" ry="3"/>
</g>
<g>
<path class="o" style="stroke-width:5.5" d="M1832,2066 L1864,2057 L1907,2068 L1968,2066 L1986,2069 L2014,2062 L2040,2060 L2061,2073 L2050,2087 L1986,2102 L1954,2118 L1939,2112 L1932,2116 L1886,2123 L1839,2109 L1832,2091 Z"/>
<path class="t" d="M1836,2080 L1880,2095 L1930,2090 L1932,2116 M1880,2095 L1886,2123 M1905,2070 Q1930,2080 1945,2095 L1954,2118 M1986,2102 Q1985,2080 2005,2072 L2040,2068"/>
<path class="n" style="stroke-width:4" d="M1843,2093 L1845,2108 M1851,2096 L1853,2112 M1859,2098 L1861,2114 M1867,2100 L1869,2116 M1875,2101 L1877,2118"/>
<ellipse class="n" cx="1915" cy="2074" rx="8" ry="4" style="stroke-width:3"/>
<ellipse class="n" cx="1940" cy="2072" rx="8" ry="4" style="stroke-width:3"/>
<path class="t" d="M2018,2080 L2035,2078"/>
</g>
<g>
<path class="o" style="stroke-width:6" d="M1863,2196 L1923,2173 L1936,2195 L1972,2186 L2020,2161 L2057,2170 L2065,2155 L2077,2159 L2072,2180 L2075,2198 L2072,2284 L1993,2320 L1972,2330 L1929,2345 L1907,2334 L1886,2230 L1868,2216 Z"/>
<path class="t" d="M1868,2216 L1915,2222 L1936,2195 M1915,2222 L1932,2340 M1886,2230 L1906,2230 M1975,2191 L1987,2316 M1975,2191 L2068,2170 M1982,2220 L2070,2200"/>
<circle class="o" cx="2020" cy="2262" r="22" style="stroke-width:4"/>
<circle class="o" cx="2032" cy="2265" r="22" style="stroke-width:4"/>
<path class="k" d="M2062,2185 L2068,2210 L2075,2210 L2075,2180 Z M1990,2226 Q2000,2222 2010,2226 L2008,2231 L1990,2231 Z"/>
<path class="n" d="M1898,2208 Q1910,2200 1920,2205"/>
</g>
<g>
<path class="o" d="M2005,2320 Q2013,2316 2020,2322 L2024,2342 L2003,2344 Z"/>
<ellipse class="o" cx="2014" cy="2346" rx="12" ry="8"/>
</g>

<!-- e03_127.svg -->
<g>
<path fill="#000" d="M1050,2008 L1105,2022 Q1115,2028 1108,2033 L1100,2032 L1102,2038 Q1095,2042 1085,2038 L1050,2028 Z"/>
<path fill="none" stroke="#fff" stroke-width="2.5" d="M1062,2012 L1060,2024 M1072,2015 L1070,2028 M1082,2018 L1080,2031"/>
<ellipse cx="1042" cy="2010" rx="21" ry="22" fill="#000"/>
<ellipse cx="1044" cy="2012" rx="9" ry="14" fill="none" stroke="#fff" stroke-width="3"/>
</g>

<!-- f01_housing125b.svg -->
<g>
<path class="o" style="stroke-width:6.5" d="M2322,2585 L2338,2580 L2357,2599 L2412,2549 L2858,2411 Q2875,2410 2882,2418 L2894,2432 L2898,2490 L2877,2509 L2882,2571 L2891,2714 L2898,2919 L2915,2943 L2915,3000 L2901,3038 L2772,3095 L2629,3143 L2572,3148 L2553,3143 L2248,2962 L2243,2955 L2252,2950 L2295,2966 L2305,2904 L2329,2900 L2391,2928 L2419,2914 L2429,2857 L2434,2714 L2415,2676 L2376,2647 L2357,2628 L2324,2618 Z"/>
<path class="t" d="M2357,2604 L2877,2437 M2372,2647 L2867,2499"/>
<path class="t" d="M2357,2599 L2357,2628 M2330,2590 L2345,2600 L2345,2622"/>
<path class="n" style="stroke-width:5.5" d="M2572,2604 Q2600,2590 2650,2580 L2724,2566 Q2735,2570 2738,2600 L2744,2685 L2715,2695 L2734,2952 Q2730,2975 2715,2986 L2620,3009 Q2590,2960 2577,2919 L2567,2752 Q2565,2620 2572,2604 Z"/>
<path class="t" d="M2577,2919 Q2590,3000 2615,3057 L2643,3066 M2620,3009 L2625,3050"/>
<path class="t" d="M2744,2685 L2752,2700 M2715,2695 Q2710,2680 2720,2672 L2740,2670"/>
<path class="o" style="stroke-width:5" d="M2446,2703 Q2446,2690 2460,2688 L2550,2690 Q2558,2695 2557,2710 L2556,2870 Q2550,2880 2535,2882 L2455,2888 Q2447,2885 2447,2875 Z"/>
<g class="n" style="stroke-width:6">
<path d="M2465,2723 Q2460,2714 2470,2712 L2535,2702 Q2543,2708 2535,2712 L2470,2726 Z"/>
<path d="M2465,2751 Q2460,2742 2470,2740 L2535,2730 Q2543,2736 2535,2740 L2470,2754 Z"/>
<path d="M2465,2779 Q2460,2770 2470,2768 L2535,2758 Q2543,2764 2535,2768 L2470,2782 Z"/>
<path d="M2465,2807 Q2460,2798 2470,2796 L2535,2786 Q2543,2792 2535,2796 L2470,2810 Z"/>
<path d="M2465,2835 Q2460,2826 2470,2824 L2535,2814 Q2543,2820 2535,2824 L2470,2838 Z"/>
<path d="M2465,2863 Q2460,2854 2470,2852 L2535,2842 Q2543,2848 2535,2852 L2470,2866 Z"/>
</g>
<path class="o" style="stroke-width:5" d="M2425,2953 L2518,2948 L2556,3020 L2505,3052 L2430,2990 Q2420,2965 2425,2953 Z"/>
<g class="n" style="stroke-width:6">
<path d="M2440,2975 L2505,2958 M2450,2995 L2520,2975 M2462,3013 L2532,2993 M2478,3030 L2540,3012"/>
</g>
<ellipse class="o" cx="2810" cy="2623" rx="37" ry="42" style="stroke-width:5"/>
<ellipse class="n" cx="2812" cy="2624" rx="25" ry="32" style="stroke-width:4"/>
<path class="k" d="M2800,2600 Q2792,2630 2805,2650 L2810,2648 Q2800,2625 2808,2602 Z"/>
<path class="o" style="stroke-width:5" d="M2700,2520 Q2700,2500 2730,2495 Q2765,2495 2770,2510 Q2768,2530 2740,2535 Q2705,2540 2700,2520 Z"/>
<path class="n" style="stroke-width:4" d="M2712,2518 Q2720,2508 2735,2512 Q2745,2505 2755,2510"/>
<path class="t" d="M2767,3009 L2906,2952 M2800,3005 L2900,2962"/>
<path class="t" d="M2835,2936 L2898,2920 M2800,2935 L2803,2935 M2810,2935 L2813,2935 M2820,2935 L2823,2935"/>
<path class="t" d="M2252,2957 L2560,3140 M2320,2975 L2553,3130"/>
<path class="t" d="M2305,2904 L2310,2930 L2340,2945 M2305,2904 Q2298,2935 2315,2950"/>
<path class="t" d="M2419,2914 Q2410,2930 2370,2945 L2350,2950"/>
<path class="t" d="M2429,2857 L2440,2880 M2434,2714 L2445,2720"/>
</g>

<!-- f02_129.svg -->
<g fill="none" stroke="#000" stroke-linecap="round" stroke-linejoin="round">
<path d="M2568,2189 Q2600,2184 2665,2178 Q2700,2175 2715,2185" stroke-width="12"/>
<path d="M2568,2189 Q2600,2184 2665,2178 Q2700,2175 2715,2185" stroke="#fff" stroke-width="5"/>
<path d="M2575,2215 Q2620,2205 2665,2190 Q2700,2175 2722,2168" stroke-width="12"/>
<path d="M2575,2215 Q2620,2205 2665,2190 Q2700,2175 2722,2168" stroke="#fff" stroke-width="5"/>
<path d="M2586,2268 Q2640,2240 2700,2210 Q2730,2190 2725,2165" stroke-width="12"/>
<path d="M2586,2268 Q2640,2240 2700,2210 Q2730,2190 2725,2165" stroke="#fff" stroke-width="5"/>
<path d="M2604,2287 Q2630,2250 2660,2240 Q2700,2230 2715,2200" stroke-width="12"/>
<path d="M2604,2287 Q2630,2250 2660,2240 Q2700,2230 2715,2200" stroke="#fff" stroke-width="5"/>
<ellipse cx="2722" cy="2175" rx="13" ry="20" stroke-width="6" transform="rotate(30 2722 2175)"/>
</g>

<!-- g01_109_132_128.svg -->
<g fill="none" stroke="#000" stroke-linecap="round" stroke-linejoin="round">
<path d="M1945,2823 Q1960,2815 1990,2820 Q2030,2830 2060,2842 Q2110,2852 2159,2849" stroke-width="5"/>
<path d="M1934,2828 Q1932,2818 1945,2818 Q1955,2820 1948,2827 Q1940,2832 1934,2828 Z" stroke-width="5"/>
</g>
<g fill="none" stroke="#000" stroke-linecap="round" stroke-linejoin="round">
<path d="M1771,2448 Q1770,2500 1790,2560 Q1830,2640 1855,2690 Q1868,2740 1850,2790" stroke-width="14"/>
<path d="M1771,2448 Q1770,2500 1790,2560 Q1830,2640 1855,2690 Q1868,2740 1850,2790" stroke="#fff" stroke-width="5"/>
<path d="M1792,2460 Q1790,2510 1805,2560 Q1845,2640 1868,2690 Q1880,2740 1860,2795" stroke-width="14"/>
<path d="M1792,2460 Q1790,2510 1805,2560 Q1845,2640 1868,2690 Q1880,2740 1860,2795" stroke="#fff" stroke-width="5"/>
<path d="M1815,2466 Q1812,2520 1828,2570 Q1865,2650 1885,2700 Q1895,2750 1870,2798" stroke-width="14"/>
<path d="M1815,2466 Q1812,2520 1828,2570 Q1865,2650 1885,2700 Q1895,2750 1870,2798" stroke="#fff" stroke-width="5"/>
<path d="M1880,2690 Q1912,2720 1905,2745 Q1900,2760 1885,2760" stroke-width="5"/>
<path d="M1630,2567 Q1660,2540 1700,2544 Q1740,2555 1780,2600 Q1815,2650 1825,2715" stroke-width="14"/>
<path d="M1630,2567 Q1660,2540 1700,2544 Q1740,2555 1780,2600 Q1815,2650 1825,2715" stroke="#fff" stroke-width="5"/>
<path d="M1614,2575 Q1610,2568 1622,2563 L1640,2558 L1642,2568 L1622,2578 Q1616,2580 1614,2575 Z" stroke-width="5" fill="#fff"/>
</g>
<g>
<path class="o" style="stroke-width:7" d="M1680,2596 Q1685,2588 1700,2592 L1748,2616 L1788,2676 L1700,2652 Z"/>
<path class="o" style="stroke-width:6" d="M1680,2672 L1700,2652 L1788,2680 L1840,2767 L1820,2793 L1736,2763 Z"/>
<path class="n" style="stroke-width:5" d="M1680,2672 L1692,2680 L1768,2707 L1788,2680 M1768,2707 L1820,2793"/>
<path class="t" d="M1720,2672 Q1725,2660 1735,2668 L1740,2682 M1740,2675 Q1745,2665 1755,2672"/>
<path class="k" d="M1818,2793 L1840,2767 L1848,2772 L1828,2800 Z"/>
</g>
<g>
<path class="o" style="stroke-width:5.5" d="M2103,2528 L2143,2490 L2179,2508 Q2205,2515 2207,2545 Q2205,2575 2180,2580 L2145,2572 L2115,2555 Z"/>
<path class="t" d="M2103,2528 L2139,2546 L2179,2508 M2139,2546 L2148,2572"/>
<g class="n" style="stroke-width:4"><circle cx="2160" cy="2540" r="7"/><circle cx="2175" cy="2528" r="6"/><circle cx="2190" cy="2540" r="6"/><circle cx="2175" cy="2555" r="6"/><circle cx="2192" cy="2560" r="5"/><circle cx="2165" cy="2565" r="5"/></g>
</g>

<!-- g02_brushes.svg -->
<g>
<path class="o" style="stroke-width:6" d="M1300,2694 Q1326,2696 1326,2732 Q1324,2768 1298,2767 Q1285,2766 1278,2752 L1250,2712 Q1240,2705 1245,2700 Q1255,2696 1262,2704 L1285,2700 Z"/>
<ellipse class="n" cx="1293" cy="2732" rx="18" ry="30" style="stroke-width:3"/>
<ellipse class="n" cx="1290" cy="2733" rx="11" ry="20" style="stroke-width:3"/>
<path class="t" d="M1287,2727 Q1293,2722 1294,2732 Q1292,2740 1288,2740"/>
<ellipse class="k" cx="1248" cy="2707" rx="5" ry="3"/>
</g>
<g>
<path class="o" style="stroke-width:6" d="M1210,2762 L1222,2758 L1258,2775 L1300,2795 L1312,2805 L1310,2855 L1300,2857 L1290,2850 L1250,2845 L1215,2852 L1207,2840 Z"/>
<path class="t" d="M1210,2790 L1230,2798 L1250,2790 L1290,2800 M1230,2798 L1232,2848 M1265,2800 L1267,2845 M1290,2800 L1292,2850"/>
<path class="k" d="M1250,2790 Q1262,2785 1265,2795 L1262,2830 Q1255,2836 1252,2828 Z"/>
<ellipse class="n" cx="1283" cy="2825" rx="6" ry="9" style="stroke-width:4"/>
<ellipse class="k" cx="1222" cy="2770" rx="5" ry="3"/>
</g>
<g>
<path class="o" style="stroke-width:5.5" d="M1325,2785 L1328,2768 L1340,2760 L1355,2752 L1375,2760 L1380,2775 L1400,2773 L1418,2778 L1420,2800 L1410,2815 L1390,2817 L1375,2808 L1355,2815 L1340,2805 L1325,2800 Z"/>
<path class="t" d="M1340,2760 L1345,2775 L1375,2775 M1345,2775 L1345,2800 M1392,2790 L1392,2815 M1375,2790 L1418,2785"/>
<ellipse class="k" cx="1337" cy="2786" rx="4" ry="3"/>
<path class="n" style="stroke-width:4" d="M1420,2790 L1436,2787"/>
</g>
<g>
<path class="o" style="stroke-width:6" d="M1220,2875 Q1222,2868 1245,2866 Q1260,2868 1261,2880 L1260,2925 Q1245,2932 1222,2930 Z"/>
<path class="t" d="M1232,2880 L1232,2928 M1245,2870 L1245,2882"/>
<path fill="none" stroke="#000" stroke-width="11" stroke-linecap="round" d="M1252,2895 Q1270,2945 1320,2953 Q1370,2958 1400,2930 Q1420,2900 1400,2887 Q1380,2880 1360,2890 L1332,2902"/>
<path fill="none" stroke="#fff" stroke-width="4.5" stroke-linecap="round" d="M1252,2895 Q1270,2945 1320,2953 Q1370,2958 1400,2930 Q1420,2900 1400,2887 Q1380,2880 1360,2890 L1332,2902"/>
</g>
<g>
<path class="o" style="stroke-width:6" d="M1205,2993 L1236,2987 L1293,3013 L1322,3036 L1329,3046 L1347,3043 L1347,3050 L1327,3056 L1322,3075 L1307,3090 L1286,3086 L1236,3102 L1213,3100 L1200,3086 L1202,3025 Z"/>
<path class="t" d="M1210,3030 L1230,3040 L1260,3028 L1290,3040 M1230,3040 L1230,3098 M1258,3030 L1260,3090 M1225,3002 L1228,3025 M1300,3020 L1320,3040 M1315,3045 L1315,3075"/>
<path class="k" d="M1205,2995 L1212,3010 L1208,3030 L1202,3025 Z"/>
<ellipse class="n" cx="1286" cy="3048" rx="7" ry="8" style="stroke-width:5"/>
<ellipse class="n" cx="1287" cy="3065" rx="7" ry="6" style="stroke-width:5"/>
</g>

<!-- h01_121.svg -->
<g>
<path class="o" style="stroke-width:6.5" d="M77,2999 L119,2979 L162,2977 L205,2995 L260,3030 L296,3042 L311,3070 L315,3105 L308,3294 L280,3329 L237,3361 L197,3380 L158,3373 L107,3333 L72,3294 L58,3247 L66,3223 L66,3042 Z"/>
<path class="t" d="M80,3005 L118,2990 L165,2990 L250,3035 L292,3050 M92,3030 L250,3070 L262,3040 M100,3025 L90,3220 M70,3220 L110,3205 L140,3280 Q190,3330 250,3330 L270,3300 M250,3070 L262,3330 M262,3080 L296,3075 L300,3300"/>
<path class="n" style="stroke-width:5" d="M100,3020 L260,3060 L262,3120 M270,3090 Q275,3085 292,3090 L292,3310 Q282,3318 272,3310 Z"/>
<ellipse class="n" cx="178" cy="3184" rx="45" ry="69" style="stroke-width:11"/>
<path class="n" style="stroke-width:5" d="M66,3225 Q70,3270 110,3300 Q150,3340 220,3355 M75,3290 Q95,3320 130,3340"/>
<ellipse class="n" cx="205" cy="3354" rx="8" ry="10" style="stroke-width:5"/>
<ellipse class="n" cx="73" cy="3265" rx="7" ry="9" style="stroke-width:5"/>
<path class="n" style="stroke-width:5" d="M205,3064 Q215,3060 220,3075 Q220,3085 208,3083 Z"/>
</g>

<!-- h02_102.svg -->
<defs>
<pattern id="lam" width="8" height="10" patternUnits="userSpaceOnUse" patternTransform="rotate(-3)">
<rect width="8" height="10" fill="#fff"/><rect x="0" width="4.5" height="10" fill="#000"/></pattern>
</defs>
<g>
<path class="o" style="stroke-width:6" d="M335,3070 L355,3042 L382,3019 L433,3003 L559,2964 L598,2952 L605,2958 L587,2972 L646,2972 L650,2980 L630,2995 L650,3034 L665,3074 L665,3090 L654,3105 L630,3160 L488,3200 L461,3211 L433,3204 L394,3180 L378,3160 L339,3129 L331,3097 Z"/>
<path class="k" d="M335,3070 L355,3042 L382,3019 L420,3008 L440,3020 L470,3050 L480,3090 L484,3130 L480,3200 L461,3211 L433,3204 L394,3180 L378,3160 L339,3129 L331,3097 Z"/>
<g fill="#fff"><path d="M345,3075 Q360,3045 390,3040 Q410,3045 405,3070 Q395,3085 380,3080 Q365,3095 350,3095 Z"/><path d="M350,3120 Q370,3110 385,3125 Q395,3150 380,3160 Q360,3150 350,3135 Z"/><path d="M395,3165 Q420,3170 430,3190 L415,3198 Q400,3185 392,3175 Z"/></g>
<g fill="#fff"><ellipse cx="365" cy="3100" rx="10" ry="6"/><ellipse cx="352" cy="3082" rx="6" ry="4"/><ellipse cx="372" cy="3072" rx="7" ry="4"/><ellipse cx="388" cy="3140" rx="9" ry="6"/><ellipse cx="405" cy="3172" rx="8" ry="5"/><ellipse cx="385" cy="3048" rx="8" ry="4"/><ellipse cx="360" cy="3120" rx="5" ry="4"/><ellipse cx="440" cy="3185" rx="10" ry="6"/></g>
<path fill="#fff" d="M412,3045 Q440,3055 455,3095 Q465,3140 455,3185 L445,3190 Q445,3130 432,3095 Q420,3065 405,3055 Z"/>
<path fill="none" stroke="#000" stroke-width="3" d="M420,3065 Q440,3100 442,3170 M430,3060 Q452,3100 452,3170"/>
<path fill="url(#lam)" d="M478,3062 L625,3020 L630,3078 L490,3120 Z"/>
<path fill="url(#lam)" d="M490,3130 L630,3090 L632,3150 L492,3195 Z"/>
<path fill="none" stroke="#000" stroke-width="4" d="M478,3062 L625,3020 M488,3124 L630,3084 M492,3195 L632,3152 M478,3062 L490,3200"/>
<path class="t" d="M433,3003 Q465,3030 478,3062 M600,2965 Q625,2990 630,3020"/>
<path class="n" d="M598,2952 L605,2958 L587,2972 M646,2972 L650,2980 L630,2995" style="stroke-width:4"/>
</g>

<!-- h03_122.svg -->
<g>
<path class="o" style="stroke-width:7" d="M693,2816 L1010,2733 L1039,2738 L1069,2757 L1068,2765 L1055,2789 L1071,2818 L1093,2856 L1122,2869 L1125,2971 L1098,2998 L1098,3025 L1055,3062 L868,3148 L830,3162 L747,3140 L704,3111 L683,3041 L685,2875 Z"/>
<path class="n" style="stroke-width:6" d="M704,2835 Q760,2815 812,2855 Q838,2875 845,2895 Q862,2920 868,2940 L873,3105 M704,2837 L707,3065"/>
<path class="n" style="stroke-width:5" d="M712,2829 L720,2830 L740,2880 L812,2862 M740,2880 L736,2893 L812,2873"/>
<path class="n" style="stroke-width:5" d="M707,3065 L862,3014 M715,3083 L865,3045"/>
<path class="n" style="stroke-width:5" d="M860,2915 L1055,2857 L1058,2830 M868,2940 L1058,2880 L1060,3030 L1052,3045 L873,3105"/>
<path class="o" style="stroke-width:6" d="M887,2942 L1048,2892 Q1054,2893 1054,2900 L1053,3044 L892,3097 Z"/>
<path class="n" style="stroke-width:5" d="M892,2830 L1010,2795 L1015,2815 L1058,2810 M892,2830 L905,2892 M905,2892 L1000,2862"/>
<path class="n" style="stroke-width:5" d="M1007,2780 L1050,2763 L1068,2765 M1010,2795 L1025,2775 L1050,2770 L1048,2790"/>
<path class="n" style="stroke-width:4.5" d="M1058,2860 L1072,2870 L1075,3000 M1100,2870 L1105,2960 L1118,2975"/>
<path class="n" style="stroke-width:5" d="M720,3105 Q780,3130 830,3140 M740,3090 L820,3075"/>
<path class="k" d="M790,3110 L845,3085 L860,3095 L840,3150 L815,3150 Z"/>
<path fill="#fff" d="M800,3115 L840,3098 L835,3108 L805,3122 Z"/>
</g>

<!-- h04_123_124_173.svg -->
<g>
<path fill="none" stroke="#000" stroke-width="9" stroke-linecap="round" d="M120,2829 L338,2769"/>
<path fill="none" stroke="#fff" stroke-width="2" stroke-dasharray="3 6" d="M135,2826 L330,2772"/>
<circle class="o" cx="108" cy="2834" r="14" style="stroke-width:5"/>
<path class="t" d="M100,2832 L115,2830 M108,2826 L108,2840"/>
</g>
<g>
<path fill="none" stroke="#000" stroke-width="9" stroke-linecap="round" d="M775,2675 L830,2695"/>
<path fill="none" stroke="#fff" stroke-width="2.5" d="M785,2675 L790,2687 M800,2680 L805,2692 M815,2686 L820,2697"/>
<ellipse class="o" cx="768" cy="2670" rx="13" ry="17" style="stroke-width:6"/>
<ellipse class="n" cx="768" cy="2670" rx="5" ry="7" style="stroke-width:3"/>
</g>
<g>
<path class="o" style="stroke-width:5.5" d="M308,2893 L436,2850 L468,2861 L472,2901 L451,2901 L450,2880 L322,2918 L322,2945 L305,2948 Q296,2945 298,2920 L300,2900 Z"/>
<path class="t" d="M300,2900 L320,2915 L450,2875 M436,2850 L452,2858 L452,2880 M322,2918 L336,2943"/>
</g>
<g>
<path class="o" style="stroke-width:5.5" d="M607,3290 Q606,3282 616,3281 L640,3283 L770,3245 L772,3235 Q778,3228 790,3232 Q798,3238 797,3250 L795,3275 L685,3320 L640,3333 L615,3336 Q605,3330 606,3310 Z"/>
<path class="t" d="M616,3283 L640,3290 L775,3250 L790,3233 M640,3290 L640,3333 M685,3305 L686,3322 M775,3250 L777,3278"/>
</g>

<!-- h04b_173b.svg -->

<!-- i01_armature.svg -->
<defs>
<pattern id="fan" width="6" height="6" patternUnits="userSpaceOnUse"><rect width="6" height="6" fill="#fff"/><rect width="3" height="6" fill="#000"/></pattern>
</defs>
<g>
<path class="o" style="stroke-width:6" d="M470,3835 Q470,3826 497,3827 Q545,3830 554,3876 Q556,3920 530,3924 L500,3924 Q468,3915 468,3875 Z"/>
<ellipse class="k" cx="497" cy="3877" rx="28" ry="47"/>
<ellipse class="n" cx="497" cy="3877" rx="19" ry="34" style="stroke:#fff;stroke-width:2.5"/>
<ellipse class="n" cx="497" cy="3877" rx="11" ry="20" style="stroke:#fff;stroke-width:2.5"/>
<ellipse fill="#fff" cx="497" cy="3877" rx="4" ry="8"/>
<path class="t" d="M525,3830 Q548,3870 530,3922" style="stroke:#000"/>
</g>
<g>
<path class="o" style="stroke-width:6" d="M1100,3650 Q1100,3638 1125,3637 Q1165,3640 1167,3680 Q1166,3716 1140,3720 L1118,3718 Q1097,3705 1097,3675 Z"/>
<ellipse class="k" cx="1120" cy="3677" rx="22" ry="36"/>
<ellipse class="n" cx="1120" cy="3677" rx="14" ry="25" style="stroke:#fff;stroke-width:2.5"/>
<ellipse fill="#fff" cx="1120" cy="3677" rx="4" ry="8"/>
</g>
<g>
<path class="o" style="stroke-width:6" d="M1225,3600 Q1250,3592 1275,3600 Q1300,3620 1302,3660 Q1300,3695 1270,3696 L1245,3696 Q1215,3690 1213,3645 Q1213,3605 1225,3600 Z"/>
<ellipse class="o" cx="1247" cy="3646" rx="33" ry="50" style="stroke-width:6"/>
<ellipse class="n" cx="1248" cy="3647" rx="19" ry="31" style="stroke-width:7"/>
<ellipse class="t" cx="1244" cy="3647" rx="10" ry="22"/>
<path class="t" d="M1262,3600 Q1285,3640 1275,3695"/>
</g>
<g>
<path class="o" style="stroke-width:6" d="M1346,3612 Q1344,3599 1356,3598 L1378,3596 L1380,3620 L1356,3621 Q1347,3620 1346,3612 Z"/>
<ellipse class="o" cx="1391" cy="3599" rx="17" ry="21" style="stroke-width:7"/>
<path class="t" d="M1385,3588 Q1398,3592 1398,3612 M1395,3584 Q1405,3592 1404,3610"/>
</g>
<g>
<path fill="#000" d="M702,3722 L722,3728 L740,3740 L755,3760 L768,3785 L774,3815 L770,3850 L758,3880 L740,3900 L715,3908 L690,3905 L668,3890 L652,3868 L638,3840 L632,3810 L636,3775 L648,3750 L665,3733 L685,3724 Z"/>
<g stroke="#fff" stroke-width="6.5" stroke-linecap="round"><path d="M733,3819 L763,3823 M731,3831 L759,3845 M727,3841 L750,3865 M720,3849 L737,3881 M712,3854 L722,3892 M703,3856 L705,3896 M694,3855 L687,3894 M686,3851 L671,3885 M679,3843 L657,3871 M674,3834 L647,3852 M671,3823 L641,3830 M671,3811 L641,3807 M673,3799 L645,3785 M677,3789 L654,3765 M684,3781 L667,3749 M692,3776 L682,3738 M701,3774 L699,3734 M710,3775 L717,3736 M718,3779 L733,3745 M725,3787 L747,3759 M730,3796 L757,3778 M733,3807 L763,3800"/></g>
<ellipse fill="#fff" stroke="#000" stroke-width="5" cx="703" cy="3822" rx="20" ry="36"/>
<ellipse fill="none" stroke="#000" stroke-width="6" cx="700" cy="3822" rx="14" ry="30"/>
<path class="o" style="stroke-width:5.5" d="M600,3830 Q598,3820 612,3817 L646,3812 L646,3855 L612,3859 Q600,3856 600,3842 Z"/>
<path class="o" style="stroke-width:5.5" d="M646,3806 L700,3797 L705,3848 L648,3860 Z"/>
<path fill="#000" d="M760,3752 L948,3695 Q958,3720 955,3760 L948,3784 L803,3850 Q775,3848 768,3810 Q760,3780 760,3752 Z"/>
<g stroke="#fff" stroke-width="9" stroke-linecap="round">
<path d="M810,3742 L930,3708 M815,3765 L935,3730 M818,3788 L938,3752 M820,3810 L935,3774 M822,3832 L925,3795"/>
</g>
<path fill="none" stroke="#fff" stroke-width="3" d="M778,3758 Q800,3800 790,3845"/>
<path fill="#000" d="M935,3702 L985,3688 Q1000,3700 1000,3730 Q998,3765 985,3772 L940,3785 Z"/>
<g fill="#fff"><ellipse cx="955" cy="3718" rx="4" ry="5"/><ellipse cx="960" cy="3738" rx="4" ry="5"/><ellipse cx="962" cy="3758" rx="4" ry="5"/><ellipse cx="950" cy="3710" rx="5" ry="3"/></g>
<path fill="#000" d="M985,3688 L1020,3680 Q1035,3690 1032,3725 Q1028,3750 1015,3752 L988,3760 Z"/>
<g stroke="#fff" stroke-width="3" stroke-linecap="round"><path d="M995,3695 L1020,3690 M996,3708 L1024,3702 M997,3721 L1025,3714 M997,3734 L1024,3727 M996,3747 L1020,3740"/></g>
<path class="o" style="stroke-width:5.5" d="M1027,3697 L1045,3693 Q1052,3698 1050,3712 Q1048,3725 1042,3727 L1027,3730 Z"/>
</g>

<!-- i02_cord106.svg -->
<g fill="none" stroke="#000" stroke-linecap="round" stroke-linejoin="round">
<path d="M2160,3400 Q2158,3340 2189,3309" stroke-width="12"/>
<path d="M2160,3400 Q2158,3340 2189,3309" stroke="#fff" stroke-width="4.5"/>
<path d="M2184,3392 Q2190,3350 2210,3338" stroke-width="12"/>
<path d="M2184,3392 Q2190,3350 2210,3338" stroke="#fff" stroke-width="4.5"/>
</g>
<g>
<path class="o" style="stroke-width:5" d="M2157,3394 L2190,3386 L2194,3502 L2166,3502 Z"/>
<path class="o" style="stroke-width:5" d="M2206,3520 Q2250,3512 2280,3535 Q2285,3560 2260,3580 L2205,3610 Z"/>
<path class="k" d="M2240,3545 L2250,3535 L2255,3548 L2268,3550 L2258,3560 L2262,3575 L2250,3566 L2238,3572 L2242,3558 L2232,3550 Z"/>
<path class="o" style="stroke-width:5.5" d="M2135,3530 Q2140,3510 2170,3510 Q2200,3510 2205,3525 L2195,3712 L2153,3712 Z"/>
<ellipse class="o" cx="2170" cy="3518" rx="32" ry="13" style="stroke-width:5"/>
<path class="t" d="M2140,3532 Q2170,3545 2203,3532"/>
<path class="n" d="M2155,3712 Q2158,3820 2166,3911 M2193,3712 Q2190,3820 2192,3911" style="stroke-width:5"/>
</g>
<g>
<path class="o" style="stroke-width:5" d="M1950,3410 Q1955,3400 1965,3402 Q1975,3408 1976,3425 L1998,3428 L2003,3436 L1975,3438 Q1960,3440 1952,3430 Z"/>
<ellipse class="n" cx="1962" cy="3418" rx="5" ry="8" style="stroke-width:4"/>
<path class="o" style="stroke-width:5.5" d="M1990,3470 Q1988,3455 2000,3448 L2040,3437 Q2062,3433 2063,3450 Q2060,3465 2040,3468 L2015,3485 Q1995,3492 1990,3480 Z"/>
<path class="k" d="M1990,3462 Q1995,3450 2005,3452 L2008,3478 Q1998,3490 1990,3480 Z"/>
<ellipse class="n" cx="2040" cy="3450" rx="8" ry="6" style="stroke-width:4"/>
</g>

<!-- i03_boxes.svg -->
<g>
<rect x="2683" y="3220" width="313" height="245" rx="24" fill="none" stroke="#000" stroke-width="4.5"/>
<rect x="2683" y="3632" width="312" height="239" rx="35" fill="none" stroke="#000" stroke-width="4.5"/>
<line x1="2760" y1="3403" x2="2885" y2="3297" stroke="#000" stroke-width="26" stroke-linecap="round"/>
<line x1="2760" y1="3403" x2="2885" y2="3297" stroke="#fff" stroke-width="14" stroke-linecap="round"/>
<path fill="none" stroke="#000" stroke-width="10" stroke-linecap="round" stroke-linejoin="round" d="M2888,3293 L2925,3256 Q2935,3250 2947,3252"/>
<path fill="none" stroke="#fff" stroke-width="3.5" stroke-linecap="round" stroke-linejoin="round" d="M2888,3293 L2925,3256 Q2935,3250 2947,3252"/>
<path class="o" style="stroke-width:5" d="M2728,3432 L2745,3412 L2760,3420 L2745,3440 Z"/>
<path class="o" style="stroke-width:5" d="M2795,3400 L2830,3430 Q2840,3436 2838,3425 L2810,3388 Z"/>
<path class="o" style="stroke-width:5" d="M2815,3380 L2850,3392 Q2860,3398 2856,3405 L2855,3395 L2818,3390 Z"/>
<path class="t" d="M2795,3372 L2808,3388 M2840,3335 L2850,3345"/>
</g>
<g>
<path class="o" style="stroke-width:4" d="M2826,3672 L2921,3674 L2914,3766 L2852,3761 Z"/>
<path class="o" style="stroke-width:4" d="M2776,3681 L2852,3683 Q2857,3685 2856,3692 L2850,3778 Q2845,3785 2835,3785 L2775,3778 Z"/>
<path d="M2767,3672 Q2772,3668 2776,3672 L2774,3830 Q2769,3832 2765,3830 Z" fill="#000" stroke="#000" stroke-width="3"/>
</g>
<path fill="none" stroke="#000" stroke-width="7" d="M2985,3979 Q2990,3958 3019,3955"/>

<g>
<line class="L" x1="632" y1="92" x2="434" y2="236"/>
<line class="L" x1="304" y1="870" x2="239" y2="722"/>
<line class="L" x1="598" y1="862" x2="512" y2="727"/>
<line class="L" x1="845" y1="277" x2="927" y2="517"/>
<line class="L" x1="1012" y1="250" x2="1190" y2="440"/>
<line class="L" x1="1144" y1="227" x2="1307" y2="432"/>
<line class="L" x1="1264" y1="210" x2="1412" y2="415"/>
<line class="L" x1="1403" y1="184" x2="1503" y2="397"/>
<line class="L" x1="1561" y1="159" x2="1622" y2="372"/>
<line class="L" x1="1696" y1="144" x2="1741" y2="382"/>
<line class="L" x1="1387" y1="790" x2="1435" y2="910"/>
<line class="L" x1="903" y1="869" x2="982" y2="955"/>
<line class="L" x1="2236" y1="602" x2="2245" y2="742"/>
<line class="L" x1="2417" y1="565" x2="2411" y2="692"/>
<line class="L" x1="2604" y1="527" x2="2562" y2="715"/>
<line class="L" x1="2885" y1="607" x2="2722" y2="770"/>
<line class="L" x1="1871" y1="686" x2="1959" y2="892"/>
<line class="L" x1="1597" y1="742" x2="1644" y2="930"/>
<line class="L" x1="907" y1="1332" x2="1090" y2="1332"/>
<line class="L" x1="910" y1="1430" x2="1025" y2="1410"/>
<line class="L" x1="912" y1="1535" x2="1050" y2="1505"/>
<line class="L" x1="1514" y1="1345" x2="1432" y2="1175"/>
<line class="L" x1="1371" y1="1721" x2="1400" y2="1890"/>
<line class="L" x1="1708" y1="1318" x2="1575" y2="1186"/>
<line class="L" x1="1894" y1="1263" x2="1736" y2="1118"/>
<line class="L" x1="2711" y1="1640" x2="2879" y2="1651"/>
<line class="L" x1="2179" y1="1569" x2="2175" y2="1650"/>
<line class="L" x1="1938" y1="1652" x2="2030" y2="1726"/>
<line class="L" x1="2080" y1="1837" x2="2228" y2="1801"/>
<line class="L" x1="2438" y1="1988" x2="2324" y2="1865"/>
<line class="L" x1="2592" y1="1838" x2="2446" y2="1788"/>
<line class="L" x1="2178" y1="1975" x2="1966" y2="2003"/>
<line class="L" x1="543" y1="1692" x2="740" y2="1652"/>
<line class="L" x1="2174" y1="2059" x2="2061" y2="2075"/>
<line class="L" x1="2229" y1="2200" x2="2070" y2="2225"/>
<line class="L" x1="2193" y1="2336" x2="2022" y2="2336"/>
<line class="L" x1="2786" y1="2071" x2="2722" y2="2154"/>
<line class="L" x1="2953" y1="2304" x2="2861" y2="2441"/>
<line class="L" x1="2353" y1="2430" x2="2205" y2="2520"/>
<line class="L" x1="1799" y1="3039" x2="1788" y2="2743"/>
<line class="L" x1="2037" y1="3019" x2="2038" y2="2839"/>
<line class="L" x1="1528" y1="2778" x2="1436" y2="2787"/>
<line class="L" x1="1481" y1="3043" x2="1368" y2="2939"/>
<line class="L" x1="79" y1="2611" x2="187" y2="2804"/>
<line class="L" x1="636" y1="2536" x2="762" y2="2654"/>
<line class="L" x1="504" y1="2715" x2="404" y2="2878"/>
<line class="L" x1="1001" y1="2609" x2="1209" y2="2778"/>
<line class="L" x1="1105" y1="2518" x2="1250" y2="2703"/>
<line class="L" x1="990" y1="3253" x2="955" y2="3035"/>
<line class="L" x1="490" y1="3374" x2="476" y2="3210"/>
<line class="L" x1="167" y1="3510" x2="182" y2="3360"/>
<line class="L" x1="1005" y1="3428" x2="1121" y2="3638"/>
<line class="L" x1="735" y1="3514" x2="850" y2="3708"/>
<line class="L" x1="437" y1="3607" x2="509" y2="3827"/>
<line class="L" x1="1182" y1="3374" x2="1258" y2="3594"/>
<line class="L" x1="1370" y1="3314" x2="1389" y2="3576"/>
<line class="L" x1="1857" y1="3283" x2="1964" y2="3405"/>
<line class="L" x1="1910" y1="3581" x2="1998" y2="3488"/>
<line class="L" x1="2417" y1="3572" x2="2177" y2="3660"/>
<line class="L" x1="378" y1="1215" x2="512" y2="1106"/>
<line class="L" x1="1701" y1="1759" x2="1609" y2="1967"/>
<line class="L" x1="890" y1="2043" x2="1019" y2="2013"/>
</g>
<g>
<text transform="translate(601.6,66) scale(0.930,1)">169</text>
<text transform="translate(263.5,922) scale(0.956,1)">170</text>
<text transform="translate(541.5,922) scale(0.939,1)">168</text>
<text transform="translate(797.5,265) scale(0.933,1)">140</text>
<text transform="translate(965.9,237) scale(0.847,1)">141</text>
<text transform="translate(1097.6,217) scale(0.922,1)">142</text>
<text transform="translate(1217.5,197) scale(0.942,1)">143</text>
<text transform="translate(1354.5,174) scale(0.946,1)">144</text>
<text transform="translate(1517.6,152) scale(0.925,1)">147</text>
<text transform="translate(1648.9,132) scale(0.847,1)">151</text>
<text transform="translate(1341.6,780) scale(0.922,1)">152</text>
<text transform="translate(853.7,859) scale(0.902,1)">161</text>
<text transform="translate(2188.5,590) scale(0.945,1)">162</text>
<text transform="translate(2371.6,552) scale(0.919,1)">163</text>
<text transform="translate(2555.5,517) scale(0.935,1)">164</text>
<text transform="translate(2883.4,624) scale(0.980,1)">165</text>
<text transform="translate(1823.6,672) scale(0.924,1)">154</text>
<text transform="translate(1550.6,730) scale(0.919,1)">153</text>
<text transform="translate(811.6,1347) scale(0.927,1)">158</text>
<text transform="translate(811.5,1447) scale(0.953,1)">159</text>
<text transform="translate(813.5,1550) scale(0.956,1)">160</text>
<text transform="translate(1466.6,1399) scale(0.925,1)">155</text>
<text transform="translate(1323.6,1709) scale(0.924,1)">124</text>
<text transform="translate(1659.5,1363) scale(0.953,1)">156</text>
<text transform="translate(1842.3,1317) scale(0.993,1)">157</text>
<text transform="translate(1987.5,1869) scale(0.935,1)">104</text>
<text transform="translate(2613.5,1655) scale(0.939,1)">108</text>
<text transform="translate(2133.6,1556) scale(0.924,1)">134</text>
<text transform="translate(1891.5,1640) scale(0.942,1)">133</text>
<text transform="translate(2176.4,1992) scale(0.979,1)">110</text>
<text transform="translate(2449.4,2000) scale(0.975,1)">136</text>
<text transform="translate(2591.5,1867) scale(0.958,1)">135</text>
<text transform="translate(738.9,1668) scale(0.847,1)">171</text>
<text transform="translate(2175.9,2075) scale(0.838,1)">111</text>
<text transform="translate(2241.4,2220) scale(0.964,1)">103</text>
<text transform="translate(2207.5,2348) scale(0.942,1)">126</text>
<text transform="translate(2804.3,2085) scale(0.986,1)">129</text>
<text transform="translate(2904.5,2291) scale(0.958,1)">125</text>
<text transform="translate(2369.3,2439) scale(1.006,1)">128</text>
<text transform="translate(1752.5,3083) scale(0.942,1)">109</text>
<text transform="translate(1996.5,3079) scale(0.956,1)">132</text>
<text transform="translate(1529.6,2796) scale(0.911,1)">114</text>
<text transform="translate(1492.6,3070) scale(0.925,1)">105</text>
<text transform="translate(32.6,2602) scale(0.919,1)">123</text>
<text transform="translate(591.6,2527) scale(0.913,1)">124</text>
<text transform="translate(461.6,2706) scale(0.919,1)">173</text>
<text transform="translate(1060.6,2504) scale(0.912,1)">115</text>
<text transform="translate(954.6,2600) scale(0.921,1)">112</text>
<text transform="translate(947.5,3309) scale(0.933,1)">122</text>
<text transform="translate(444.4,3441) scale(0.967,1)">102</text>
<text transform="translate(115.6,3555) scale(0.925,1)">121</text>
<text transform="translate(956.5,3422) scale(0.950,1)">118</text>
<text transform="translate(1134.4,3364) scale(0.964,1)">119</text>
<text transform="translate(684.6,3504) scale(0.913,1)">101</text>
<text transform="translate(390.6,3593) scale(0.924,1)">117</text>
<text transform="translate(1320.4,3304) scale(0.967,1)">120</text>
<text transform="translate(1813.8,3270) scale(0.858,1)">131</text>
<text transform="translate(1816.5,3607) scale(0.933,1)">130</text>
<text transform="translate(2418.4,3588) scale(0.964,1)">106</text>
<text transform="translate(2798.3,3526) scale(0.990,1)">800</text>
<text transform="translate(2794.3,3943) scale(0.965,1)">816</text>
<text transform="translate(280.5,1246) scale(0.953,1)">166</text>
<text transform="translate(1656.6,1745) scale(0.925,1)">125</text>
<text transform="translate(795.5,2060) scale(0.948,1)">127</text>
</g>
</svg>
</body></html>
